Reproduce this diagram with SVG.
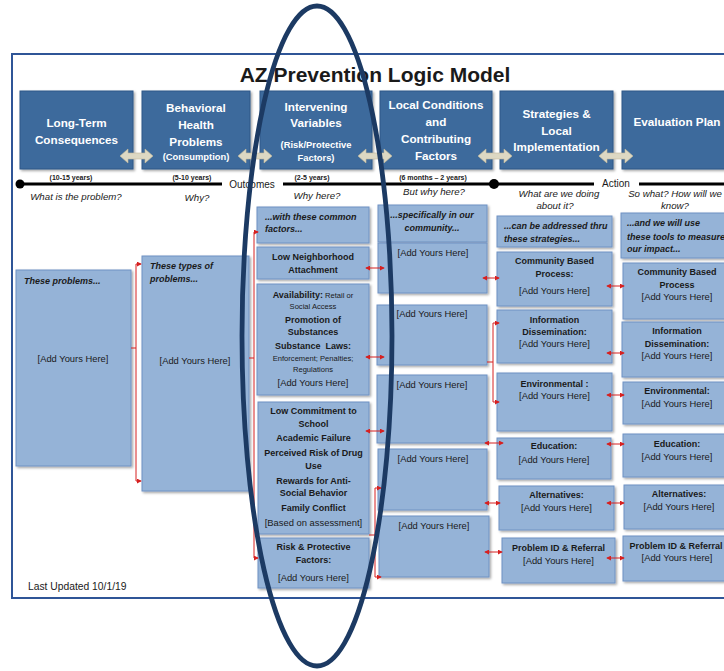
<svg xmlns="http://www.w3.org/2000/svg" width="724" height="671" viewBox="0 0 724 671">
<defs>
<filter id="sh" x="-10%" y="-10%" width="130%" height="130%"><feDropShadow dx="1.5" dy="1.5" stdDeviation="1" flood-color="#000" flood-opacity="0.35"/></filter>
<marker id="ra" viewBox="0 0 6 6" refX="5" refY="3" markerWidth="5" markerHeight="5" markerUnits="userSpaceOnUse" orient="auto-start-reverse"><path d="M0,0 L6,3 L0,6 Z" fill="#d62020"/></marker>
</defs>
<style>
text{font-family:"Liberation Sans",Arial,sans-serif;fill:#1a1a1a}
.hb{fill:#3d6a9c;stroke:#2c5687;stroke-width:1;filter:url(#sh)}
.ht{fill:#fff;font-weight:bold;font-size:11.7px;text-anchor:middle}
.hs{font-size:9.4px}
.lb{fill:#95b3d7;stroke:#6f92c3;stroke-width:1;filter:url(#sh)}
.c{text-anchor:middle}
.b{font-weight:bold;font-size:9px}
.bi{font-weight:bold;font-style:italic;font-size:9px}
.n{font-size:9.4px}
.s{font-size:7.6px}
.q{font-style:italic;font-size:9.7px;text-anchor:middle}
.yr{font-weight:bold;font-size:7px;text-anchor:middle}
.dbl{fill:#ddd8c3;stroke:#c2bb9a;stroke-width:0.6}
.red{fill:none;stroke:#d62020;stroke-width:1}
</style>
<rect x="0" y="0" width="724" height="671" fill="#fff"/>
<rect x="12" y="54" width="730" height="544" fill="none" stroke="#2f5597" stroke-width="2"/>
<text x="375" y="82" text-anchor="middle" font-weight="bold" font-size="21px" fill="#000">AZ Prevention Logic Model</text>

<g id="h1"><rect class="hb" x="20" y="91" width="113" height="78"/><text class="ht" x="76.5" y="127">Long-Term</text><text class="ht" x="76.5" y="144">Consequences</text></g>
<g id="h2"><rect class="hb" x="142" y="91" width="108" height="78"/><text class="ht" x="196" y="112">Behavioral</text><text class="ht" x="196" y="129">Health</text><text class="ht" x="196" y="146">Problems</text><text class="ht hs" x="196" y="160">(Consumption)</text></g>
<g id="h3"><rect class="hb" x="260" y="91" width="112" height="78"/><text class="ht" x="316" y="111">Intervening</text><text class="ht" x="316" y="127">Variables</text><text class="ht hs" x="316" y="148">(Risk/Protective</text><text class="ht hs" x="316" y="161">Factors)</text></g>
<g id="h4"><rect class="hb" x="380" y="91" width="112" height="78"/><text class="ht" x="436" y="109">Local Conditions</text><text class="ht" x="436" y="126">and</text><text class="ht" x="436" y="143">Contributing</text><text class="ht" x="436" y="160">Factors</text></g>
<g id="h5"><rect class="hb" x="500" y="91" width="113" height="78"/><text class="ht" x="556.5" y="118">Strategies &amp;</text><text class="ht" x="556.5" y="135">Local</text><text class="ht" x="556.5" y="151">Implementation</text></g>
<g id="h6"><rect class="hb" x="622" y="91" width="120" height="78"/><text class="ht" x="677" y="126">Evaluation Plan</text></g>

<g id="header-arrows">
<path class="dbl" d="M120,156 l8,-7 v4 h17 v-4 l8,7 l-8,7 v-4 h-17 v4 z"/>
<path class="dbl" d="M238,156 l8,-7 v4 h18 v-4 l8,7 l-8,7 v-4 h-18 v4 z"/>
<path class="dbl" d="M358,156 l8,-7 v4 h18 v-4 l8,7 l-8,7 v-4 h-18 v4 z"/>
<path class="dbl" d="M478,156 l8,-7 v4 h18 v-4 l8,7 l-8,7 v-4 h-18 v4 z"/>
<path class="dbl" d="M599,156 l8,-7 v4 h18 v-4 l8,7 l-8,7 v-4 h-18 v4 z"/>
</g>

<g id="timeline">
<path d="M20,184 H222 M283,184 H594 M639,184 H724" stroke="#000" stroke-width="3"/>
<circle cx="20" cy="184" r="4.5" fill="#000"/>
<circle cx="494" cy="184" r="5" fill="#000"/>
<text class="yr" x="71" y="180">(10-15 years)</text>
<text class="yr" x="192" y="180">(5-10 years)</text>
<text class="yr" x="312" y="180">(2-5 years)</text>
<text class="yr" x="433" y="180">(6 months – 2 years)</text>
<text x="252" y="188" font-size="10px" text-anchor="middle">Outcomes</text>
<text x="616" y="187" font-size="10px" text-anchor="middle">Action</text>
<text class="q" x="76" y="200">What is the problem?</text>
<text class="q" x="197" y="201">Why?</text>
<text class="q" x="317" y="199">Why here?</text>
<text class="q" x="434" y="195">But why here?</text>
<text class="q" x="559" y="197">What are we doing</text>
<text class="q" x="555" y="209">about it?</text>
<text class="q" x="675" y="197">So what? How will we</text>
<text class="q" x="675" y="209">know?</text>
</g>

<g id="n-problems"><rect class="lb" x="16" y="270" width="115" height="196"/><text class="bi" x="24" y="284">These problems...</text><text class="n c" x="73" y="362">[Add Yours Here]</text></g>
<g id="n-types"><rect class="lb" x="142" y="256" width="107" height="235"/><text class="bi" x="150" y="269">These types of</text><text class="bi" x="150" y="282">problems...</text><text class="n c" x="195" y="364">[Add Yours Here]</text></g>

<g id="n-common"><rect class="lb" x="257" y="207" width="112" height="36"/><text class="bi" x="265" y="220">...with these common</text><text class="bi" x="265" y="232">factors...</text></g>
<g id="n-neigh"><rect class="lb" x="257" y="247" width="112" height="32"/><text class="b c" x="313" y="260">Low Neighborhood</text><text class="b c" x="313" y="273">Attachment</text></g>
<g id="n-avail"><rect class="lb" x="257" y="284" width="112" height="111"/>
<text class="c" x="313" y="298"><tspan class="b">Availability:</tspan><tspan class="s"> Retail  or</tspan></text>
<text class="s c" x="313" y="309">Social Access</text>
<text class="b c" x="313" y="323">Promotion of</text>
<text class="b c" x="313" y="335">Substances</text>
<text class="b c" x="313" y="349" xml:space="preserve">Substance  Laws:</text>
<text class="s c" x="313" y="361">Enforcement; Penalties;</text>
<text class="s c" x="313" y="372">Regulations</text>
<text class="n c" x="313" y="386">[Add Yours Here]</text></g>
<g id="n-commit"><rect class="lb" x="258" y="402" width="111" height="132"/>
<text class="b c" x="313.5" y="414">Low Commitment to</text>
<text class="b c" x="313.5" y="427">School</text>
<text class="b c" x="313.5" y="441">Academic Failure</text>
<text class="b c" x="313.5" y="456">Perceived Risk of Drug</text>
<text class="b c" x="313.5" y="469">Use</text>
<text class="b c" x="313.5" y="484">Rewards for Anti-</text>
<text class="b c" x="313.5" y="496">Social Behavior</text>
<text class="b c" x="313.5" y="511">Family Conflict</text>
<text class="n c" x="313.5" y="526">[Based on assessment]</text></g>
<g id="n-riskprot"><rect class="lb" x="258" y="538" width="111" height="50"/><text class="b c" x="313.5" y="550">Risk &amp; Protective</text><text class="b c" x="313.5" y="563">Factors:</text><text class="n c" x="313.5" y="581">[Add Yours Here]</text></g>

<g id="n-specific"><rect class="lb" x="378" y="205" width="109" height="37"/><text class="bi c" x="432" y="218">...specifically in our</text><text class="bi c" x="432" y="231">community...</text></g>
<g id="n-lc1"><rect class="lb" x="378" y="243" width="109" height="50"/><text class="n c" x="433" y="256">[Add Yours Here]</text></g>
<g id="n-lc2"><rect class="lb" x="377" y="305" width="110" height="60"/><text class="n c" x="432" y="317">[Add Yours Here]</text></g>
<g id="n-lc3"><rect class="lb" x="377" y="375" width="110" height="68"/><text class="n c" x="432" y="388">[Add Yours Here]</text></g>
<g id="n-lc4"><rect class="lb" x="378" y="449" width="109" height="61"/><text class="n c" x="433" y="462">[Add Yours Here]</text></g>
<g id="n-lc5"><rect class="lb" x="379" y="516" width="110" height="61"/><text class="n c" x="434" y="529">[Add Yours Here]</text></g>

<g id="n-addressed"><rect class="lb" x="497" y="216" width="115" height="31"/><text class="bi" x="504" y="229">...can be addressed thru</text><text class="bi" x="504" y="242">these strategies...</text></g>
<g id="n-s-cbp"><rect class="lb" x="497" y="252" width="115" height="54"/><text class="b c" x="554.5" y="264">Community Based</text><text class="b c" x="554.5" y="277">Process:</text><text class="n c" x="554.5" y="294">[Add Yours Here]</text></g>
<g id="n-s-info"><rect class="lb" x="497" y="310" width="115" height="53"/><text class="b c" x="554.5" y="323">Information</text><text class="b c" x="554.5" y="335">Dissemination:</text><text class="n c" x="554.5" y="347">[Add Yours Here]</text></g>
<g id="n-s-env"><rect class="lb" x="497" y="373" width="115" height="58"/><text class="b c" x="554.5" y="387">Environmental :</text><text class="n c" x="554.5" y="399">[Add Yours Here]</text></g>
<g id="n-s-edu"><rect class="lb" x="497" y="438" width="114" height="41"/><text class="b c" x="554" y="449">Education:</text><text class="n c" x="554" y="463">[Add Yours Here]</text></g>
<g id="n-s-alt"><rect class="lb" x="499" y="486" width="115" height="44"/><text class="b c" x="556.5" y="498">Alternatives:</text><text class="n c" x="556.5" y="511">[Add Yours Here]</text></g>
<g id="n-s-pid"><rect class="lb" x="502" y="538" width="113" height="45"/><text class="b c" x="558.5" y="551">Problem ID &amp; Referral</text><text class="n c" x="558.5" y="564">[Add Yours Here]</text></g>

<g id="n-tools"><rect class="lb" x="621" y="213" width="120" height="45"/><text class="bi" x="627" y="226">...and we will use</text><text class="bi" x="627" y="240" font-size="8.7px">these tools to measure</text><text class="bi" x="627" y="252">our impact...</text></g>
<g id="n-e-cbp"><rect class="lb" x="623" y="263" width="120" height="56"/><text class="b c" x="677" y="275">Community Based</text><text class="b c" x="677" y="288">Process</text><text class="n c" x="677" y="300">[Add Yours Here]</text></g>
<g id="n-e-info"><rect class="lb" x="622" y="322" width="120" height="55"/><text class="b c" x="677" y="334">Information</text><text class="b c" x="677" y="347">Dissemination:</text><text class="n c" x="677" y="359">[Add Yours Here]</text></g>
<g id="n-e-env"><rect class="lb" x="623" y="382" width="120" height="42"/><text class="b c" x="677" y="394">Environmental:</text><text class="n c" x="677" y="407">[Add Yours Here]</text></g>
<g id="n-e-edu"><rect class="lb" x="623" y="434" width="120" height="43"/><text class="b c" x="677" y="447">Education:</text><text class="n c" x="677" y="460">[Add Yours Here]</text></g>
<g id="n-e-alt"><rect class="lb" x="624" y="485" width="120" height="44"/><text class="b c" x="679" y="497">Alternatives:</text><text class="n c" x="679" y="510">[Add Yours Here]</text></g>
<g id="n-e-pid"><rect class="lb" x="623" y="536" width="120" height="45"/><text class="b c" x="676" y="549" font-size="8.8px">Problem ID &amp; Referral</text><text class="n c" x="677" y="561">[Add Yours Here]</text></g>

<g id="connectors">
<path class="red" d="M141,264 H136 V481 H141" marker-start="url(#ra)" marker-end="url(#ra)"/>
<path class="red" d="M131,348 H136"/>
<path class="red" d="M258,232 H254 V558 H258" marker-start="url(#ra)" marker-end="url(#ra)"/>
<path class="red" d="M249,358 H254"/>
<path class="red" d="M366,268 H384" marker-start="url(#ra)" marker-end="url(#ra)"/>
<path class="red" d="M366,357 H384" marker-start="url(#ra)" marker-end="url(#ra)"/>
<path class="red" d="M366,431 H384" marker-start="url(#ra)" marker-end="url(#ra)"/>
<path class="red" d="M381,488 H375 V577 H381" marker-start="url(#ra)" marker-end="url(#ra)"/>
<path class="red" d="M369,535 H375"/>
<path class="red" d="M483,278 H499" marker-start="url(#ra)" marker-end="url(#ra)"/>
<path class="red" d="M499,323 H493 V402 H499" marker-start="url(#ra)" marker-end="url(#ra)"/>
<path class="red" d="M487,362 H493"/>
<path class="red" d="M485,443 H503" marker-start="url(#ra)" marker-end="url(#ra)"/>
<path class="red" d="M485,503 H500" marker-start="url(#ra)" marker-end="url(#ra)"/>
<path class="red" d="M485,552 H502" marker-start="url(#ra)" marker-end="url(#ra)"/>
<path class="red" d="M607,286 H624" marker-start="url(#ra)" marker-end="url(#ra)"/>
<path class="red" d="M607,353 H624" marker-start="url(#ra)" marker-end="url(#ra)"/>
<path class="red" d="M607,395 H624" marker-start="url(#ra)" marker-end="url(#ra)"/>
<path class="red" d="M607,444 H624" marker-start="url(#ra)" marker-end="url(#ra)"/>
<path class="red" d="M607,503 H624" marker-start="url(#ra)" marker-end="url(#ra)"/>
<path class="red" d="M607,558 H624" marker-start="url(#ra)" marker-end="url(#ra)"/>
</g>

<text x="28" y="590" font-size="10.3px">Last Updated 10/1/19</text>

<ellipse id="highlight" cx="317" cy="336" rx="75" ry="330" fill="none" stroke="#1c3a63" stroke-width="4.8"/>
</svg>
